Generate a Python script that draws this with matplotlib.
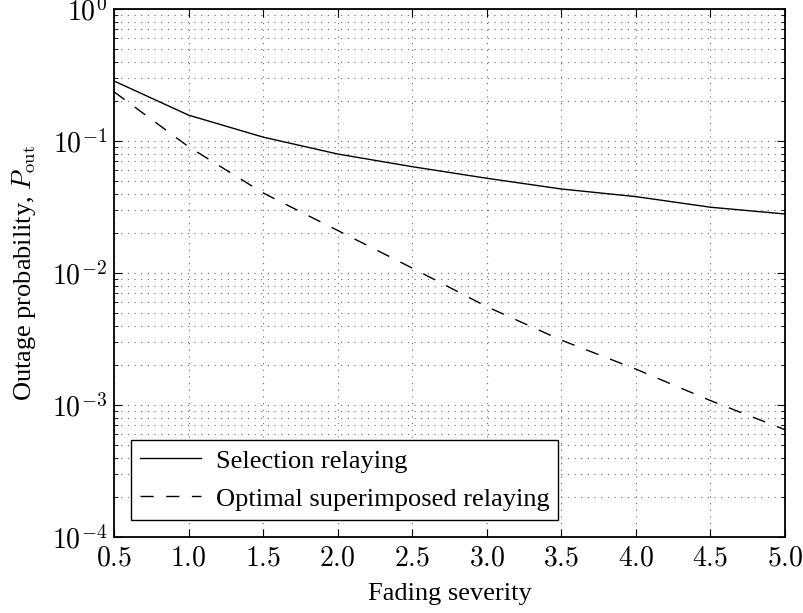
import math
import matplotlib
matplotlib.use("Agg")
import matplotlib.pyplot as plt
from matplotlib.ticker import LogLocator, NullFormatter

plt.rcParams['font.family'] = ['Liberation Serif', 'DejaVu Serif']
plt.rcParams['mathtext.fontset'] = 'cm'

fading = [0.5, 1.0, 1.5, 2.0, 2.5, 3.0, 3.5, 4.0, 4.5, 5.0]
selection = [0.285, 0.157, 0.107, 0.0797, 0.0639, 0.0522, 0.0433, 0.0379, 0.0315, 0.028]
superimposed = [0.236, 0.0905, 0.0404, 0.021, 0.0109, 0.00556, 0.0031, 0.00187, 0.00108, 0.00065]
xticks = [0.5, 1.0, 1.5, 2.0, 2.5, 3.0, 3.5, 4.0, 4.5, 5.0]
yticks = [1e-4, 1e-3, 1e-2, 1e-1, 1e0]

fig = plt.figure(figsize=(8.04, 6.13), dpi=100)
ax = fig.add_axes([114/804, 1-537/613, (785-114)/804, (537-9)/613])

ax.plot(fading, selection, '-', color='black', lw=1.0, label='Selection relaying')
ax.plot(fading, superimposed, '--', color='black', lw=1.0, dashes=(9.5, 9),
        label='Optimal superimposed relaying')

ax.set_yscale('log')
ax.set_xlim(0.5, 5.0)
ax.set_ylim(1e-4, 1e0)
ax.set_xticks(xticks)
ax.set_xticklabels(['$%.1f$' % v for v in xticks])
ax.set_yticks(yticks)
ax.set_yticklabels(['$10^{%d}$' % int(round(math.log10(v))) for v in yticks])
ax.yaxis.set_minor_locator(LogLocator(base=10, subs=range(2, 10), numticks=20))
ax.yaxis.set_minor_formatter(NullFormatter())

ax.tick_params(which='both', direction='in', top=True, right=True, labelsize=20)
ax.tick_params(which='major', length=6, width=0.8)
ax.tick_params(which='minor', length=3, width=0.6)
ax.tick_params(axis='x', pad=7)
ax.tick_params(axis='y', pad=5)

grid_style = dict(linestyle=(0, (1, 5)), color='#666666', lw=0.8)
ax.grid(True, which='major', axis='both', **grid_style)
ax.grid(True, which='minor', axis='y', **grid_style)

for s in ax.spines.values():
    s.set_linewidth(1.3)

ax.set_xlabel('Fading severity', fontsize=19, labelpad=8)
ax.set_ylabel(r'Outage probability, $P_{\rm out}$', fontsize=19, labelpad=10)

leg = ax.legend(loc='lower left', fontsize=19, frameon=True, fancybox=False,
                edgecolor='black', framealpha=1, handlelength=2.3,
                borderaxespad=0.65, borderpad=0.35, labelspacing=0.55, handletextpad=0.55)
leg.get_frame().set_linewidth(1.0)

fig.savefig('out.png', dpi=100)
